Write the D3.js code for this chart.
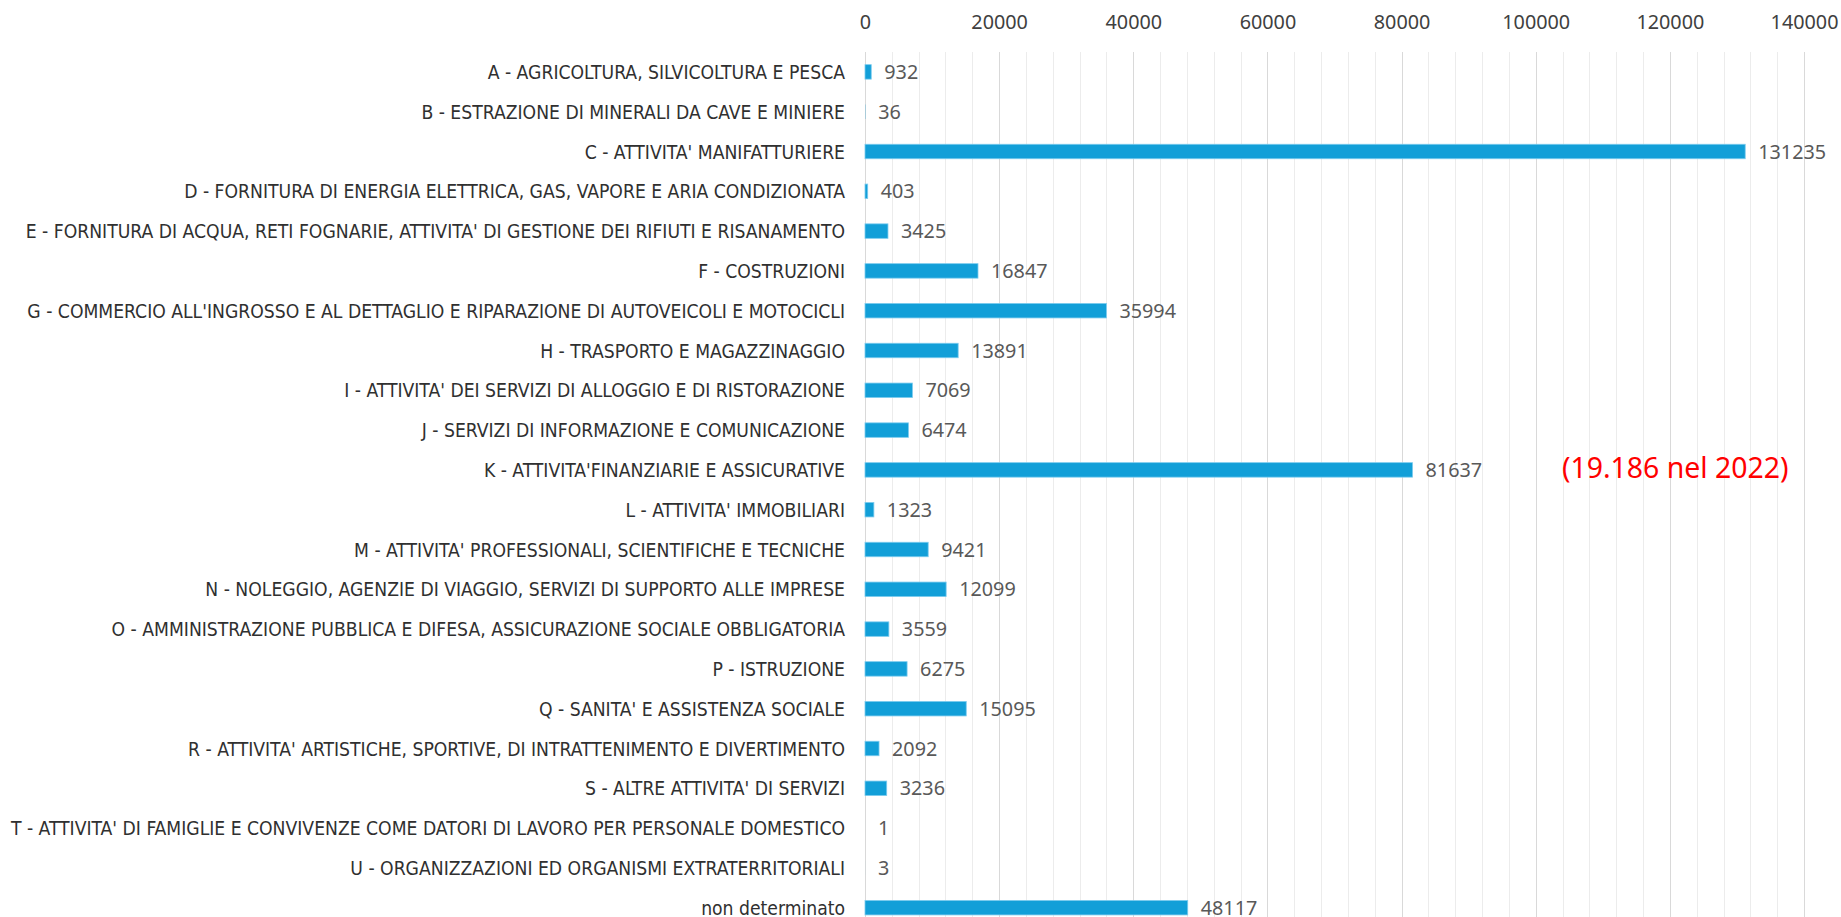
<!DOCTYPE html>
<html>
<head>
<meta charset="utf-8">
<script src="https://cdn.jsdelivr.net/npm/d3@7"></script>
<style>
  html, body { margin: 0; padding: 0; background: #ffffff; }
  svg { display: block; }
</style>
</head>
<body>
<svg id="chart" width="1841" height="917"></svg>
<script>
const categories = [
  "A - AGRICOLTURA, SILVICOLTURA E PESCA",
  "B - ESTRAZIONE DI MINERALI DA CAVE E MINIERE",
  "C - ATTIVITA' MANIFATTURIERE",
  "D - FORNITURA DI ENERGIA ELETTRICA, GAS, VAPORE E ARIA CONDIZIONATA",
  "E - FORNITURA DI ACQUA, RETI FOGNARIE, ATTIVITA' DI GESTIONE DEI RIFIUTI E RISANAMENTO",
  "F - COSTRUZIONI",
  "G - COMMERCIO ALL'INGROSSO E AL DETTAGLIO E RIPARAZIONE DI AUTOVEICOLI E MOTOCICLI",
  "H - TRASPORTO E MAGAZZINAGGIO",
  "I - ATTIVITA' DEI SERVIZI DI ALLOGGIO E DI RISTORAZIONE",
  "J - SERVIZI DI INFORMAZIONE E COMUNICAZIONE",
  "K - ATTIVITA'FINANZIARIE E ASSICURATIVE",
  "L - ATTIVITA' IMMOBILIARI",
  "M - ATTIVITA' PROFESSIONALI, SCIENTIFICHE E TECNICHE",
  "N - NOLEGGIO, AGENZIE DI VIAGGIO, SERVIZI DI SUPPORTO ALLE IMPRESE",
  "O - AMMINISTRAZIONE PUBBLICA E DIFESA, ASSICURAZIONE SOCIALE OBBLIGATORIA",
  "P - ISTRUZIONE",
  "Q - SANITA' E ASSISTENZA SOCIALE",
  "R - ATTIVITA' ARTISTICHE, SPORTIVE, DI INTRATTENIMENTO E DIVERTIMENTO",
  "S - ALTRE ATTIVITA' DI SERVIZI",
  "T - ATTIVITA' DI FAMIGLIE E CONVIVENZE COME DATORI DI LAVORO PER PERSONALE DOMESTICO",
  "U - ORGANIZZAZIONI ED ORGANISMI EXTRATERRITORIALI",
  "non determinato"
];
const values = [932, 36, 131235, 403, 3425, 16847, 35994, 13891, 7069, 6474, 81637, 1323, 9421, 12099, 3559, 6275, 15095, 2092, 3236, 1, 3, 48117];
const tickValues = [0, 20000, 40000, 60000, 80000, 100000, 120000, 140000];
const minorStep = 4000;
const axisMax = 140000;
const annotation = "(19.186 nel 2022)";
const annotationCategory = "K - ATTIVITA'FINANZIARIE E ASSICURATIVE";

const svg = d3.select("#chart");

const plotLeft = 865, plotRight = 1804, plotTop = 52;
const rowStep = 39.8;
const x = d3.scaleLinear().domain([0, axisMax]).range([plotLeft, plotRight]);
const pad = 0.636;
const y = d3.scaleBand()
  .domain(categories)
  .range([plotTop, plotTop + rowStep * categories.length])
  .paddingInner(pad)
  .paddingOuter(pad / 2);

const gridBottom = 917;
const numFont = "'Noto Sans', 'Open Sans', sans-serif";

// minor gridlines
const minorTicks = d3.range(0, axisMax + 1, minorStep).filter(v => v % 20000 !== 0);
svg.append("g").selectAll("line").data(minorTicks).join("line")
  .attr("x1", d => Math.round(x(d)) + 0.5).attr("x2", d => Math.round(x(d)) + 0.5)
  .attr("y1", plotTop).attr("y2", gridBottom)
  .attr("stroke", "#ececec").attr("stroke-width", 1);

// major gridlines
svg.append("g").selectAll("line").data(tickValues).join("line")
  .attr("x1", d => Math.round(x(d)) + 0.5).attr("x2", d => Math.round(x(d)) + 0.5)
  .attr("y1", plotTop).attr("y2", gridBottom)
  .attr("stroke", "#d9d9d9").attr("stroke-width", 1);

// top axis labels
const axis = d3.axisTop(x).tickValues(tickValues).tickSize(0).tickPadding(0).tickFormat(d3.format("d"));
const gAxis = svg.append("g").attr("transform", "translate(0,29)").call(axis);
gAxis.select(".domain").remove();
gAxis.selectAll("text")
  .attr("dy", "0")
  .attr("fill", "#404040")
  .style("font-family", numFont)
  .style("font-size", "19.8px");

// bars
svg.append("g").selectAll("rect").data(values).join("rect")
  .attr("x", x(0))
  .attr("y", (d, i) => y(categories[i]))
  .attr("width", d => Math.max(0, x(d) - x(0)))
  .attr("height", y.bandwidth())
  .attr("fill", "#129FD8")
  .attr("stroke", "#7ccbee")
  .attr("stroke-width", d => (x(d) - x(0)) > 1.5 ? 0.8 : 0);

// value labels
svg.append("g").selectAll("text").data(values).join("text")
  .attr("x", d => x(d) + 13)
  .attr("y", (d, i) => y(categories[i]) + y.bandwidth() / 2)
  .attr("dy", "0.36em")
  .attr("fill", "#595959")
  .style("font-family", numFont)
  .style("font-size", "19.8px")
  .text(d => d);

// category labels (condensed horizontally to match the narrow reference face)
const labelG = svg.append("g").attr("transform", "translate(845,0) scale(0.958,1)");
labelG.selectAll("text").data(categories).join("text")
  .attr("x", 0)
  .attr("y", d => y(d) + y.bandwidth() / 2)
  .attr("dy", "0.36em")
  .attr("text-anchor", "end")
  .attr("fill", "#303030")
  .style("font-family", "'DejaVu Sans Condensed', 'DejaVu Sans', sans-serif")
  .style("font-stretch", "condensed")
  .style("font-size", "20px")
  .text(d => d);

// annotation
svg.append("text")
  .attr("x", 1562)
  .attr("y", y(annotationCategory) + y.bandwidth() / 2 - 2)
  .attr("dy", "0.36em")
  .attr("fill", "#ff0000")
  .style("font-family", numFont)
  .style("font-size", "28.4px")
  .text(annotation);
</script>
</body>
</html>
